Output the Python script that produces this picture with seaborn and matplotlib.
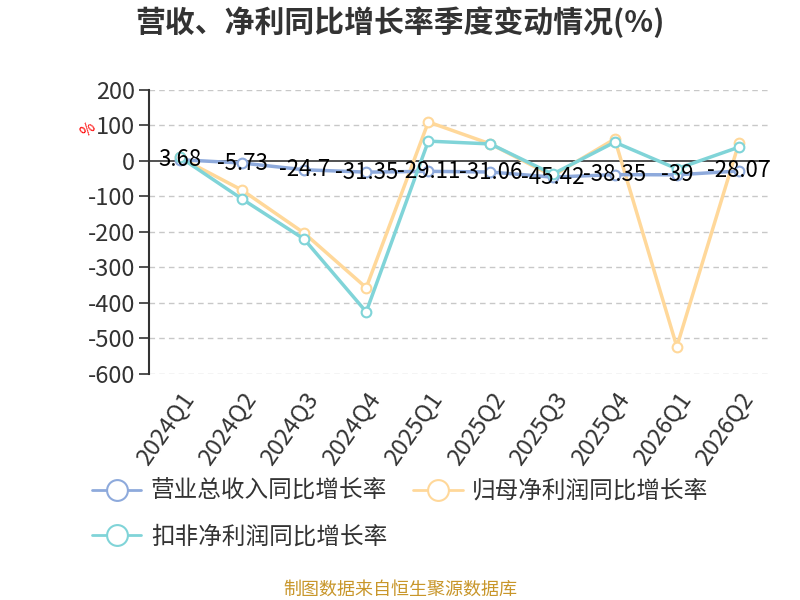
import pandas as pd
import numpy as np
import matplotlib.pyplot as plt
import seaborn as sns
from matplotlib.lines import Line2D

quarters = ['2024Q1', '2024Q2', '2024Q3', '2024Q4', '2025Q1',
            '2025Q2', '2025Q3', '2025Q4', '2026Q1', '2026Q2']
revenue = [3.68, -5.73, -24.7, -31.35, -29.11, -31.06, -45.42, -38.35, -39, -28.07]
net_profit = [10, -82, -203, -357, 110, 48, -42, 62, -523, 51]
deducted_profit = [11, -107, -220, -425, 56, 48, -37, 53, -22, 39]

names = ['营业总收入同比增长率', '归母净利润同比增长率', '扣非净利润同比增长率']
colors = ['#8eaadc', '#ffd89a', '#80d4d8']

sns.set_theme(style='white')
plt.rcParams['font.family'] = ['Noto Sans CJK SC', 'DejaVu Sans']

df = pd.DataFrame({'q': quarters, names[0]: revenue, names[1]: net_profit, names[2]: deducted_profit})
df['x'] = np.arange(len(quarters))

fig = plt.figure(figsize=(8, 6), dpi=100)
ax = fig.add_axes([0.186, 0.3767, 0.7765, 0.4733])

for name, c, z in zip(names, colors, [3, 2, 4]):
    sns.lineplot(data=df, x='x', y=name, ax=ax, color=c, lw=2.5, marker='o',
                 markersize=7, markerfacecolor='white', markeredgecolor=c,
                 markeredgewidth=1.5, zorder=z)

for i, v in enumerate(revenue):
    lbl = ('%g' % v)
    ax.text(i, v, lbl, ha='center', va='center', fontsize=16, color='black',
            zorder=6, family=['Noto Sans CJK SC', 'DejaVu Sans'])

ax.set_xlim(-0.5, 9.5)
ax.set_ylim(-600, 200)
ax.set_yticks(range(-600, 201, 100))
ax.set_yticklabels([str(t) for t in range(-600, 201, 100)], fontsize=17, color='#333333')
ax.set_xticks(range(len(quarters)))
ax.set_xticklabels(quarters, rotation=55, ha='right', rotation_mode='anchor', fontsize=17, color='#333333')
ax.set_xlabel('')
ax.set_ylabel('')
for t in range(-600, 201, 100):
    if t != 0:
        ax.axhline(t, color='#c8c8c8', lw=1, ls=(0, (4, 3)), zorder=0)
ax.axhline(0, color='#333333', lw=1.2, zorder=1)
for s in ['top', 'right', 'bottom']:
    ax.spines[s].set_visible(False)
ax.spines['left'].set_color('#333333')
ax.spines['left'].set_linewidth(1.5)
ax.tick_params(axis='y', left=True, length=7, color='#333333', width=1.2, pad=3)
ax.tick_params(axis='x', bottom=False, pad=4)

ax.text(-0.098, 0.86, '%', transform=ax.transAxes, color='red', fontsize=11, rotation=45,
        ha='center', va='center')

fig.text(0.5, 0.963, '营收、净利同比增长率季度变动情况(%)', ha='center', va='center',
         fontsize=21.5, fontweight='bold', color='#333333')

handles = [Line2D([0], [0], color=c, lw=2, marker='o', markersize=15,
                  markerfacecolor='white', markeredgecolor=c, markeredgewidth=1.5) for c in colors]
order = [0, 2, 1]
fig.legend([handles[k] for k in order], [names[k] for k in order], ncol=2,
           loc='upper left', bbox_to_anchor=(0.1, 0.22),
           frameon=False, fontsize=17, handlelength=2.1, handletextpad=0.4,
           columnspacing=1.1, labelspacing=0.95, borderpad=0, labelcolor='#333333')

fig.text(0.5, 0.017, '制图数据来自恒生聚源数据库', ha='center', va='center', fontsize=13,
         color='#c8962a')

fig.savefig('out.png', dpi=100)
